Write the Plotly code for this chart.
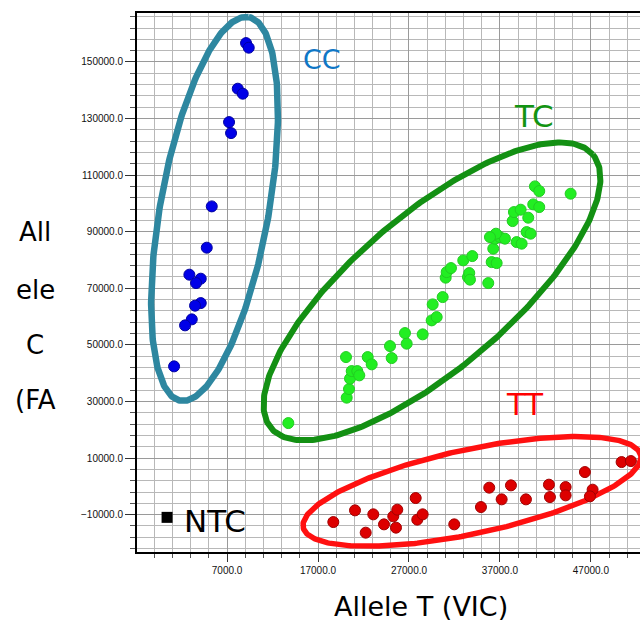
import numpy as np
import plotly.graph_objects as go

# ---- data (Allele T VIC on x, Allele C FAM on y) ----
cc_x = [9088, 9385, 8176, 8725, 7220, 7440, 5319, 4769, 2857, 4110, 3593, 4110, 3483, 3121, 2384, 1175]
cc_y = [156661, 155035, 140546, 138779, 128742, 124855, 98950, 84355, 74814, 73400, 71845, 64777, 63858, 59018, 56897, 42408]

tc_x = [13737, 20155, 20408, 20518, 20705, 21320, 21540, 20078, 22463, 22903, 25100, 24914, 26749, 26562,
        28507, 29497, 30046, 29607, 30706, 31036, 31145, 31618, 32969, 33486, 33958, 33628, 33706, 35717,
        36091, 36640, 36267, 36453, 37003, 37552, 38838, 39388, 39938, 40377, 38399, 38541, 39278, 40113,
        40663, 41322, 40849, 41322, 44773, 36563, 35904]
tc_y = [22369, 31345, 34385, 38060, 40746, 40746, 39226, 45693, 45693, 43114, 45340, 49581, 50429, 54175,
        53716, 58663, 59829, 64318, 66897, 73753, 75732, 77146, 79867, 73965, 81387, 75379, 73047, 71845,
        79266, 78913, 84002, 87536, 88101, 87536, 86334, 85769, 89868, 89303, 93756, 96936, 97785, 94957,
        99658, 98703, 106019, 104358, 103439, 89303, 88101]

tt_x = [18682, 21067, 22243, 23078, 24254, 25276, 25716, 25573, 27739, 27914, 28507, 31980, 34915, 35827,
        37190, 38212, 39860, 42388, 42498, 44223, 44223, 46344, 47190, 46893, 50377, 51400]
tt_y = [-12618, -8483, -16364, -9896, -13430, -10603, -8235, -14597, -4136, -11769, -9896, -13430, -7317, -461,
        -4595, 352, -4595, 600, -3783, -249, -3182, 5052, -1167, -3535, 8586, 8940]

ntc_x = [406]
ntc_y = [-10956]

x_range = [-2900, 52400]
y_range = [-23200, 167300]

# cluster ellipses: centre (data units), semi-axes (screen px), tilt (deg, screen)
ellipses = {
    "CC": dict(cx=5626, cy=98067, a=194.8, b=54.3, ang=79.9, color="#2e87a0", width=6.5),
    "TC": dict(cx=29530, cy=68911, a=211.2, b=77.3, ang=40.4, color="#139013", width=6),
    "TT": dict(cx=33926, cy=-1768, a=172.6, b=42.2, ang=12.1, color="#ff1010", width=5.5),
}

W, H = 640, 626
ML, MR, MT, MB = 137, 0, 13, 74
plot_w = W - ML - MR
plot_h = H - MT - MB
sx = plot_w / (x_range[1] - x_range[0])
sy = plot_h / (y_range[1] - y_range[0])

fig = go.Figure()

t = np.linspace(0, 2 * np.pi, 400)
for name, e in ellipses.items():
    phi = np.deg2rad(e["ang"])
    dx = e["a"] * np.cos(t) * np.cos(phi) - e["b"] * np.sin(t) * np.sin(phi)
    dy = e["a"] * np.cos(t) * np.sin(phi) + e["b"] * np.sin(t) * np.cos(phi)
    fig.add_trace(go.Scatter(x=e["cx"] + dx / sx, y=e["cy"] + dy / sy, mode="lines",
                             line=dict(color=e["color"], width=e["width"]),
                             hoverinfo="skip", showlegend=False))

fig.add_trace(go.Scatter(x=cc_x, y=cc_y, mode="markers", showlegend=False,
                         marker=dict(size=11, color="#0000e8", line=dict(color="#0000a0", width=1))))
fig.add_trace(go.Scatter(x=tc_x, y=tc_y, mode="markers", showlegend=False,
                         marker=dict(size=11, color="#22ee22", line=dict(color="#22cc22", width=1))))
fig.add_trace(go.Scatter(x=tt_x, y=tt_y, mode="markers", showlegend=False,
                         marker=dict(size=11, color="#dd0000", line=dict(color="#a00000", width=1))))
fig.add_trace(go.Scatter(x=ntc_x, y=ntc_y, mode="markers", showlegend=False,
                         marker=dict(size=11, symbol="square", color="#000000")))

tickfont = dict(family="Liberation Sans, Arial", size=10, color="#111111")

fig.update_xaxes(range=x_range, tick0=7000, dtick=10000, tickformat=".1f",
                 ticks="outside", ticklen=8, tickcolor="#333", tickfont=tickfont,
                 showline=True, linecolor="black", linewidth=2, mirror=True,
                 showgrid=True, gridcolor="#9a9a9a", gridwidth=1, zeroline=False,
                 minor=dict(tick0=7000, dtick=2000, showgrid=True, gridcolor="#b8b8b8",
                            ticks="outside", ticklen=4, tickcolor="#555"))
fig.update_yaxes(range=y_range, tick0=10000, dtick=20000, tickformat=".1f",
                 ticks="outside", ticklen=10, tickcolor="#333", tickfont=tickfont,
                 showline=True, linecolor="black", linewidth=2, mirror=False,
                 showgrid=True, gridcolor="#9a9a9a", gridwidth=1, zeroline=False,
                 minor=dict(tick0=10000, dtick=4000, showgrid=True, gridcolor="#b8b8b8",
                            ticks="outside", ticklen=5, tickcolor="#555"))

anns = [
    dict(text="CC", x=321.7, y=59, size=27, color="#0f77c6"),
    dict(text="TC", x=534, y=115.5, size=31, color="#129412"),
    dict(text="TT", x=525, y=404, size=30, color="#ff0000"),
    dict(text="NTC", x=215, y=521, size=31, color="#000000"),
    dict(text="Allele T (VIC)", x=421, y=607, size=27, color="#000000"),
    dict(text="All", x=35, y=232, size=26, color="#000000"),
    dict(text="ele", x=35, y=290, size=26, color="#000000"),
    dict(text="C", x=35, y=345, size=26, color="#000000"),
    dict(text="(FA", x=35, y=400, size=26, color="#000000"),
]
for a in anns:
    fig.add_annotation(text=a["text"], xref="paper", yref="paper",
                       x=(a["x"] - ML) / plot_w, y=(H - MB - a["y"]) / plot_h,
                       xanchor="center", yanchor="middle", showarrow=False, borderpad=0,
                       font=dict(family="DejaVu Sans", size=a["size"], color=a["color"]))

fig.update_layout(width=W, height=H, margin=dict(l=ML, r=MR, t=MT, b=MB),
                  paper_bgcolor="white", plot_bgcolor="white", showlegend=False)

fig.write_html("out.html")
